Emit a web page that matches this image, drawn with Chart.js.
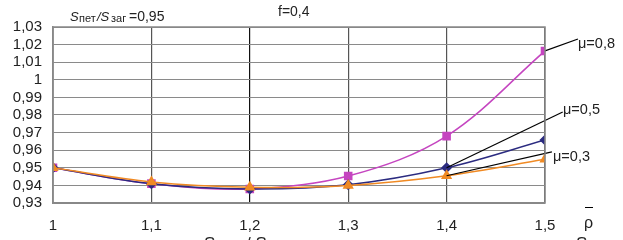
<!DOCTYPE html>
<html>
<head>
<meta charset="utf-8">
<script src="https://cdn.jsdelivr.net/npm/chart.js@4"></script>
<style>
  html, body { margin: 0; padding: 0; background: #fff; }
  #wrap { width: 623px; height: 240px; position: relative; }
</style>
</head>
<body>
<div id="wrap"><canvas id="chart"></canvas></div>
<script>
// categories (rho bar) and series values
const rhoValues = [1, 1.1, 1.2, 1.3, 1.4, 1.5];
const xTickLabels = ['1', '1,1', '1,2', '1,3', '1,4', '1,5'];
const mu08 = [0.950, 0.941, 0.938, 0.9453, 0.968, 1.0164];
const mu05 = [0.950, 0.941, 0.938, 0.9404, 0.950, 0.9658];
const mu03 = [0.950, 0.942, 0.939, 0.9400, 0.9455, 0.9548];
const yTickLabels = ['0,93', '0,94', '0,95', '0,96', '0,97', '0,98', '0,99', '1', '1,01', '1,02', '1,03'];

// leader lines: from a data point to the label end (data units)
const leaders = [
    { text: 'μ=0,8', from: [1.5, 1.0164], to: [1.5335, 1.0232], tx: 578, ty: 44 },
    { text: 'μ=0,5', from: [1.4, 0.950], to: [1.518, 0.9817], tx: 563, ty: 110 },
    { text: 'μ=0,3', from: [1.4, 0.9455], to: [1.507, 0.9590], tx: 553, ty: 157 }
];

function toPoints(vals) {
    return vals.map((v, i) => ({ x: rhoValues[i], y: v }));
}

const FONT = "'Liberation Sans', Arial, sans-serif";

const annotations = {
    id: 'annotations',
    afterDatasetsDraw(chart) {
        const ctx = chart.ctx;
        const xs = chart.scales.x, ys = chart.scales.y;
        ctx.save();
        ctx.strokeStyle = '#000';
        ctx.lineWidth = 1.2;
        leaders.forEach(l => {
            ctx.beginPath();
            ctx.moveTo(xs.getPixelForValue(l.from[0]), ys.getPixelForValue(l.from[1]));
            ctx.lineTo(xs.getPixelForValue(l.to[0]), ys.getPixelForValue(l.to[1]));
            ctx.stroke();
        });
        ctx.fillStyle = '#222';
        ctx.font = '14.5px ' + FONT;
        ctx.textBaseline = 'middle';
        ctx.textAlign = 'left';
        leaders.forEach(l => ctx.fillText(l.text, l.tx, l.ty));

        // header texts
        ctx.font = '14px ' + FONT;
        ctx.fillText('f=0,4', 278, 12);
        ctx.font = 'italic 13px ' + FONT;
        ctx.fillText('S', 70, 17);
        ctx.font = '11px ' + FONT;
        ctx.fillText('пет', 79, 19);
        ctx.font = 'italic 13px ' + FONT;
        ctx.fillText('/S', 97, 17);
        ctx.font = '11px ' + FONT;
        ctx.fillText('заг', 111, 19);
        ctx.font = '14px ' + FONT;
        ctx.fillText('=0,95', 129, 17);

        // axis name rho with bar
        ctx.font = '16px ' + FONT;
        ctx.fillText('ρ', 584, 224);
        ctx.beginPath();
        ctx.lineWidth = 1;
        ctx.moveTo(585, 207.5);
        ctx.lineTo(593, 207.5);
        ctx.stroke();

        // cut-off caption at the bottom
        ctx.textBaseline = 'alphabetic';
        ctx.font = '17px ' + FONT;
        ctx.fillText('Sпет / Sзаг', 204, 249);
        ctx.fillText('S', 576, 249);
        ctx.restore();
    }
};

new Chart(document.getElementById('chart'), {
    type: 'line',
    data: {
        datasets: [
            {
                label: 'μ=0,3',
                data: toPoints(mu03),
                borderColor: '#f08a24',
                backgroundColor: '#f08a24',
                pointStyle: 'triangle',
                pointRadius: 5,
                borderWidth: 1.5,
                tension: 0.35
            },
            {
                label: 'μ=0,5',
                data: toPoints(mu05),
                borderColor: '#2b2b80',
                backgroundColor: '#2b2b80',
                pointStyle: 'rectRot',
                pointRadius: 4.5,
                borderWidth: 1.5,
                tension: 0.35
            },
            {
                label: 'μ=0,8',
                data: toPoints(mu08),
                borderColor: '#c545c0',
                backgroundColor: '#c545c0',
                pointStyle: 'rect',
                pointRadius: 5,
                borderWidth: 1.5,
                tension: 0.35
            }
        ]
    },
    options: {
        responsive: true,
        maintainAspectRatio: false,
        animation: false,
        layout: { padding: { top: 27, right: 78, left: 0, bottom: 0 } },
        plugins: {
            legend: { display: false },
            tooltip: { enabled: false }
        },
        scales: {
            x: {
                type: 'linear',
                min: 1,
                max: 1.5,
                afterBuildTicks: axis => { axis.ticks = rhoValues.map(v => ({ value: v })); },
                afterFit: axis => { axis.height = 37; },
                ticks: {
                    autoSkip: false,
                    maxRotation: 0,
                    padding: 14,
                    color: '#222',
                    font: { family: FONT, size: 15 },
                    callback: (v, i) => xTickLabels[i]
                },
                grid: {
                    color: ctx => ctx.tick && ctx.tick.value === 1.2 ? '#111' : '#555',
                    lineWidth: 1.2,
                    drawTicks: false
                },
                border: { color: '#888', width: 1.5 }
            },
            y: {
                min: 0.93,
                max: 1.03,
                afterBuildTicks: axis => { axis.ticks = yTickLabels.map((t, i) => ({ value: 0.93 + i * 0.01 })); },
                afterFit: axis => { axis.width = 53; },
                ticks: {
                    autoSkip: false,
                    padding: 11,
                    color: '#222',
                    font: { family: FONT, size: 15 },
                    callback: (v, i) => yTickLabels[i]
                },
                grid: {
                    color: '#8a8a8a',
                    lineWidth: 1,
                    drawTicks: false
                },
                border: { color: '#888', width: 1.5 }
            }
        }
    },
    plugins: [annotations, {
        id: 'frame',
        afterDraw(chart) {
            const a = chart.chartArea, ctx = chart.ctx;
            ctx.save();
            ctx.strokeStyle = '#888';
            ctx.lineWidth = 1.5;
            ctx.strokeRect(a.left, a.top, a.right - a.left, a.bottom - a.top);
            ctx.restore();
        }
    }]
});
</script>
</body>
</html>
